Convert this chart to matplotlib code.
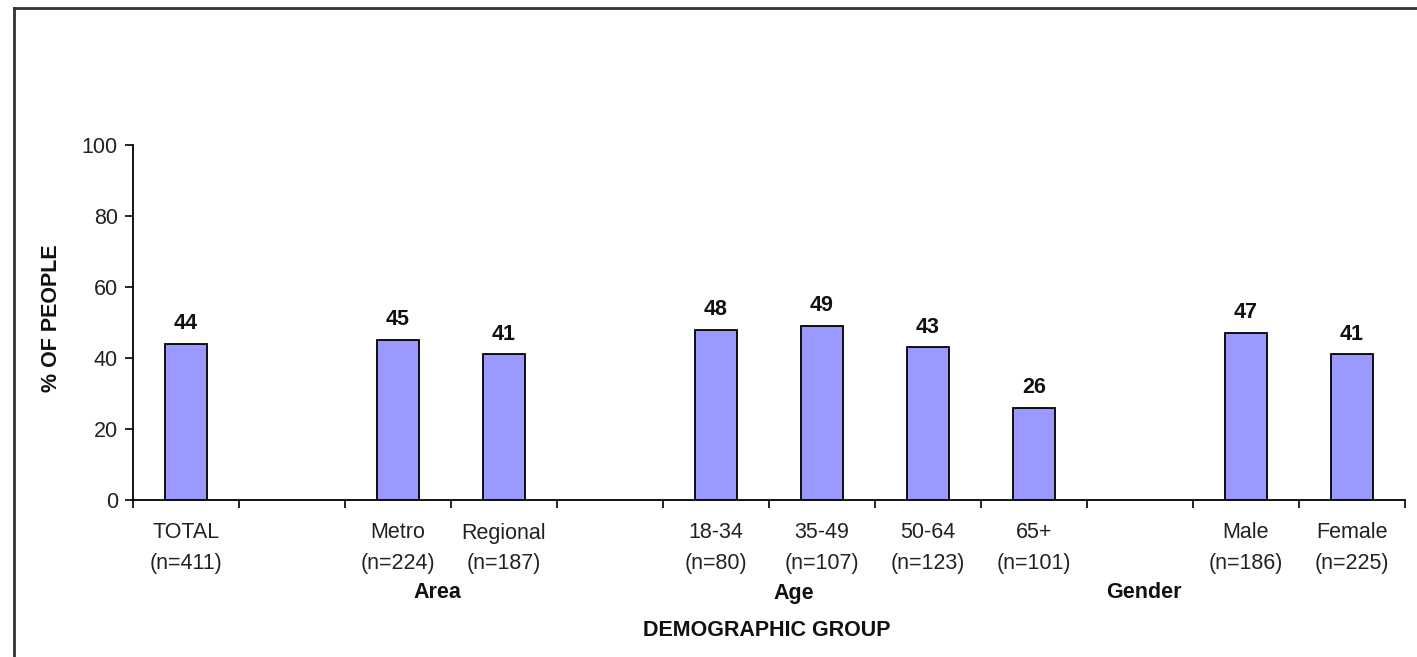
import numpy as np
import matplotlib
matplotlib.use("Agg")
import matplotlib.pyplot as plt
import matplotlib.transforms as mtransforms

plt.rcParams['font.family'] = ['Liberation Sans', 'DejaVu Sans']

# 各组别及样本量（空字符串为组间空位）
labels = ['TOTAL', '', 'Metro', 'Regional', '', '18-34', '35-49', '50-64', '65+', '', 'Male', 'Female']
n_sizes = [411, None, 224, 187, None, 80, 107, 123, 101, None, 186, 225]
pct = [44, None, 45, 41, None, 48, 49, 43, 26, None, 47, 41]
groups = ['Area', 'Age', 'Gender']
yticks = [0, 20, 40, 60, 80, 100]

FS = 15.5

fig = plt.figure(figsize=(14.17, 6.57), dpi=100)
ax = fig.add_axes([0.0939, 0.239, 0.8976, 0.5404])

x = np.arange(len(labels))
heights = np.array([np.nan if v is None else v for v in pct], dtype=float)
ax.bar(x, heights, width=0.4, color='#9999FF', edgecolor='black', linewidth=1.3, zorder=3)

# 柱顶数值
for xi, v in zip(x, pct):
    if v is None:
        continue
    ax.annotate(str(v), (xi, v), xytext=(0, 7), textcoords='offset points',
                ha='center', va='bottom', fontsize=FS, fontweight='bold', color='#111111')

ax.set_xlim(-0.5, len(labels) - 0.5)
ax.set_ylim(0, 100)
ax.set_yticks(yticks)
ax.tick_params(axis='y', length=6, width=1.2, labelsize=FS, labelcolor='#222222', pad=5)

# x轴刻度放在分隔处，标签放在柱中心
ax.set_xticks(np.arange(-0.5, len(labels) + 0.5, 1.0))
ax.set_xticklabels([])
ax.tick_params(axis='x', length=6, width=1.2)

for spine in ['top', 'right']:
    ax.spines[spine].set_visible(False)
for spine in ['left', 'bottom']:
    ax.spines[spine].set_linewidth(1.3)

trans = mtransforms.blended_transform_factory(ax.transData, fig.transFigure)
for xi, lab, n in zip(x, labels, n_sizes):
    if not lab:
        continue
    ax.text(xi, 1 - 533 / 657, lab, transform=trans, ha='center', va='center',
            fontsize=FS, color='#222222')
    ax.text(xi, 1 - 563 / 657, f'(n={n})', transform=trans, ha='center', va='center',
            fontsize=FS, color='#222222')

for gx, g in zip([2.37, 5.73, 9.04], groups):
    ax.text(gx, 1 - 593 / 657, g, transform=trans, ha='center', va='center',
            fontsize=FS, fontweight='bold', color='#111111')

fig.text(767 / 1417, 1 - 631 / 657, 'DEMOGRAPHIC GROUP', ha='center', va='center',
         fontsize=FS, fontweight='bold', color='#111111')
fig.text(52 / 1417, 1 - 318 / 657, '% OF PEOPLE', ha='center', va='center', rotation=90,
         fontsize=FS, fontweight='bold', color='#111111')

# 外框（左、上）
fig.add_artist(plt.Line2D([14 / 1417, 14 / 1417], [0, 1 - 8 / 657], transform=fig.transFigure,
                          color='#333333', linewidth=2))
fig.add_artist(plt.Line2D([14 / 1417, 1], [1 - 8 / 657, 1 - 8 / 657], transform=fig.transFigure,
                          color='#333333', linewidth=2))

fig.savefig('out.png', dpi=100)
